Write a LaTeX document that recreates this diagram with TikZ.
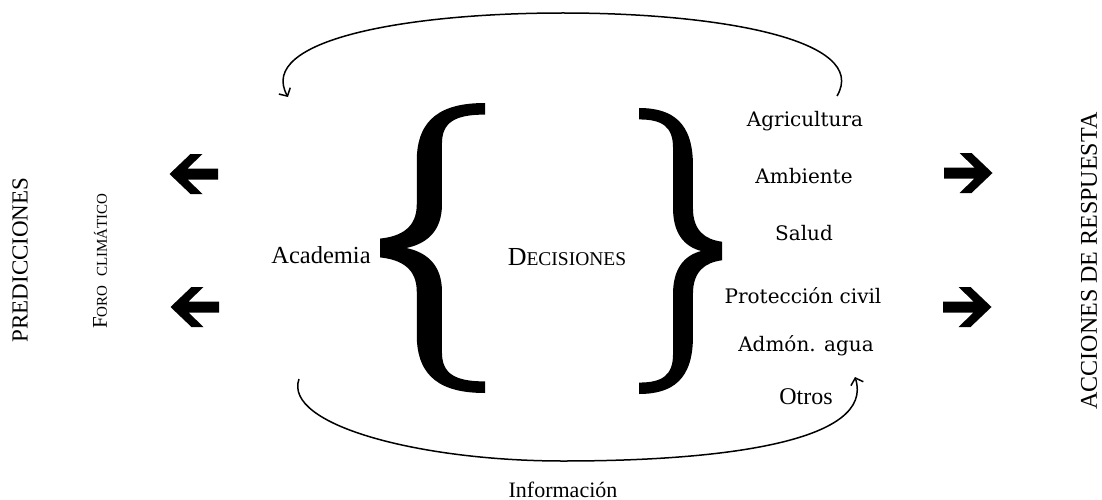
\documentclass[tikz,border=0pt]{standalone}
\usepackage{fontspec}
\setmainfont{Liberation Serif}
\newfontfamily\listfont{DejaVu Serif}
\usetikzlibrary{arrows.meta}
\newcommand\fsz[1]{\fontsize{#1}{#1}\selectfont}
\tikzset{
  txt/.style={inner sep=0pt, anchor=base, font=\fsz{24.5}},
  lst/.style={inner sep=0pt, anchor=base, font=\listfont\fsz{20}},
  vert/.style={inner sep=0pt, rotate=90},
  loopline/.style={line width=1.5pt, -{Straight Barb[length=6pt,width=13pt]}},
  rarrow/.pic={
    \fill[black] (-24,-5.5) -- (6.5,-5.5) -- (-8.5,-20) -- (3.5,-20) -- (24.5,0)
      -- (3.5,20) -- (-8.5,20) -- (6.5,5.5) -- (-24,5.5) -- cycle;
  },
  bigbrace/.pic={
    \fill[black] (1,-1)
      .. controls (0.6,-1) and (0.35,-0.9) .. (0.35,-0.6)
      -- (0.35,-0.3)
      .. controls (0.35,-0.14) and (0.2,-0.08) .. (0,-0.065)
      -- (0,0.065)
      .. controls (0.2,0.08) and (0.35,0.14) .. (0.35,0.3)
      -- (0.35,0.6)
      .. controls (0.35,0.9) and (0.6,1) .. (1,1)
      -- (1,0.92)
      .. controls (0.72,0.92) and (0.59,0.87) .. (0.59,0.72)
      -- (0.59,0.3)
      .. controls (0.59,0.12) and (0.45,0.03) .. (0.25,0)
      .. controls (0.45,-0.03) and (0.59,-0.12) .. (0.59,-0.3)
      -- (0.59,-0.72)
      .. controls (0.59,-0.87) and (0.72,-0.92) .. (1,-0.92)
      -- cycle;
  }
}
\begin{document}
\begin{tikzpicture}[x=1pt,y=-1pt]
\useasboundingbox (0,0) rectangle (1102,500);

% side labels
\node[vert, font=\fsz{23}] (pred) at (20,260) {PREDICCIONES};
\node[vert] (foro) at (100,261) {{\fsz{21}F}{\fsz{15}ORO\hspace{0.6em}CLIMÁTICO}};
\node[vert, font=\fsz{24}] (acc) at (1089,261) {ACCIONES DE RESPUESTA};

% block arrows
\pic[xscale=-1] at (194,174) {rarrow};
\pic[xscale=-1] at (195,307) {rarrow};
\pic at (968,173) {rarrow};
\pic at (967,307) {rarrow};

% braces
\pic[xscale=105, yscale=145] at (380,248) {bigbrace};
\pic[xscale=-83, yscale=143] at (722,251) {bigbrace};

% central texts
\node[txt] (acad) at (321,263) {Academia};
\node[txt] (dec) at (567,265) {{\fsz{26}D}{\fsz{19.5}ECISIONES}};

% list
\node[lst] (agr) at (805,127) {Agricultura};
\node[lst] (amb) at (804,183) {Ambiente};
\node[lst] (sal) at (804,240) {Salud};
\node[lst] (pro) at (803,303) {Protección civil};
\node[lst] (adm) at (806,351) {Admón. agua};
\node[txt, font=\fsz{24}] (otr) at (806,404) {Otros};

\node[txt, font=\fsz{22}] (inf) at (563,497) {Información};

% loops
\coordinate (tR) at (837,96);
\coordinate (tM) at (563,13);
\coordinate (tL) at (288,97);
\coordinate (bL) at (299,379);
\coordinate (bM) at (563,461);
\coordinate (bR) at (855,377);

\draw[loopline] (tR) .. controls (870,40) and (720,13) .. (tM)
  .. controls (406,13) and (256,40) .. (tL);
\draw[loopline] (bL) .. controls (283,425) and (420,461) .. (bM)
  .. controls (730,461) and (875,440) .. (bR);
\end{tikzpicture}
\end{document}
